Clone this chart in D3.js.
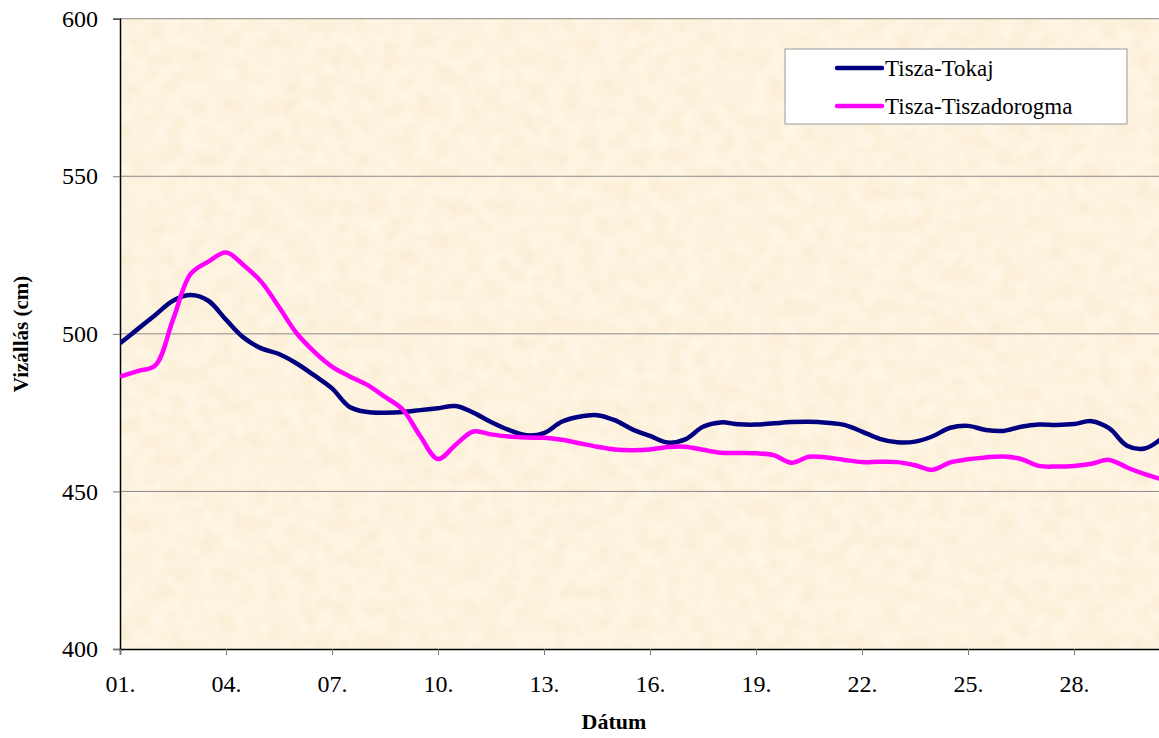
<!DOCTYPE html>
<html>
<head>
<meta charset="utf-8">
<script src="https://cdn.jsdelivr.net/npm/d3@7"></script>
<style>
  body { margin: 0; background: #fff; }
  text { font-family: "Liberation Serif", "Times New Roman", serif; }
</style>
</head>
<body>
<svg id="chart" width="1159" height="738"></svg>
<script>
// half-day readings, day of month
var days = [1, 1.5, 2, 2.5, 3, 3.5, 4, 4.5, 5, 5.5, 6, 6.5, 7, 7.5, 8, 8.5, 9, 9.5, 10, 10.5,
  11, 11.5, 12, 12.5, 13, 13.5, 14, 14.5, 15, 15.5, 16, 16.5, 17, 17.5, 18, 18.5, 19, 19.5, 20, 20.5,
  21, 21.5, 22, 22.5, 23, 23.5, 24, 24.5, 25, 25.5, 26, 26.5, 27, 27.5, 28, 28.5, 29, 29.5, 30, 30.5];

var tokaj = [497, 501.5, 506, 510.5, 512.3, 510.5, 504.5, 498.8, 495.4, 493.6, 490.6, 486.8, 482.7, 476.8, 475.2, 475, 475.2, 475.8, 476.4, 477.1,
  475, 472, 469.5, 467.8, 468.5, 472.1, 473.7, 474.2, 472.6, 469.7, 467.6, 465.5, 466.5, 470.5, 471.9, 471.3, 471.2, 471.6, 472, 472.1,
  471.8, 471.1, 469, 466.7, 465.6, 465.8, 467.5, 470.2, 470.8, 469.5, 469.2, 470.5, 471.2, 471.1, 471.4, 472.3, 470, 464.5, 463.6, 467];

var tiszadorogma = [486.4, 488.2, 490, 504.5, 519, 522.9, 525.8, 521.8, 516.5, 508.5, 500.2, 494.3, 489.6, 486.5, 483.8, 480, 476, 467.5, 460.3, 464.8,
  469, 468.1, 467.4, 467.1, 467, 466.4, 465.3, 464.2, 463.3, 463.1, 463.3, 464.1, 464.2, 463.2, 462.3, 462.2, 462.1, 461.5, 459.1, 461,
  460.8, 460, 459.3, 459.4, 459.3, 458.3, 456.9, 459.2, 460.2, 460.8, 461.1, 460.3, 458.1, 457.9, 458.1, 458.8, 460, 457.6, 455.5, 453.8];

var seriesNames = ["Tisza-Tokaj", "Tisza-Tiszadorogma"];
var seriesColors = ["#000080", "#ff00ff"];

var tickDays = [1, 4, 7, 10, 13, 16, 19, 22, 25, 28];
var tickLabels = ["01.", "04.", "07.", "10.", "13.", "16.", "19.", "22.", "25.", "28."];
var yTicks = [400, 450, 500, 550, 600];

var svg = d3.select("#chart");

var plotLeft = 120, plotTop = 18.7, plotBottom = 649, plotRight = 1180;

var x = d3.scaleLinear().domain([1, 31]).range([plotLeft, plotRight]);
var y = d3.scaleLinear().domain([400, 600]).range([plotBottom, plotTop]);

// parchment texture, kept faint
var defs = svg.append("defs");
var filter = defs.append("filter")
  .attr("id", "paper")
  .attr("x", 0).attr("y", 0).attr("width", 1).attr("height", 1)
  .attr("color-interpolation-filters", "sRGB");
filter.append("feTurbulence")
  .attr("type", "fractalNoise")
  .attr("baseFrequency", 0.06)
  .attr("numOctaves", 2)
  .attr("seed", 7);
filter.append("feColorMatrix")
  .attr("type", "matrix")
  .attr("values", "0.02 0 0 0 0.982  0.05 0 0 0 0.925  0.1 0 0 0 0.82  0 0 0 0 1");

defs.append("clipPath").attr("id", "plotClip")
  .append("rect")
  .attr("x", plotLeft).attr("y", plotTop)
  .attr("width", plotRight - plotLeft).attr("height", plotBottom - plotTop);

svg.append("rect")
  .attr("x", plotLeft).attr("y", plotTop)
  .attr("width", plotRight - plotLeft).attr("height", plotBottom - plotTop)
  .attr("fill", "#fbefda")
  .attr("filter", "url(#paper)");

// gridlines (600 is the top border)
svg.append("g")
  .selectAll("line")
  .data(yTicks.slice(1))
  .enter()
  .append("line")
  .attr("x1", plotLeft).attr("x2", plotRight)
  .attr("y1", function (d) { return y(d); })
  .attr("y2", function (d) { return y(d); })
  .attr("stroke", "#8c8c8c")
  .attr("stroke-width", 1);

// axes
var yAxis = d3.axisLeft(y).tickValues(yTicks).tickSize(7).tickPadding(15);
var gy = svg.append("g")
  .attr("transform", "translate(" + plotLeft + ",0)")
  .call(yAxis);
gy.select(".domain").attr("stroke", "#000").attr("stroke-width", 1.5);
gy.selectAll(".tick line").attr("stroke", "#777");
gy.selectAll("text")
  .attr("font-size", 24)
  .attr("font-family", "Liberation Serif")
  .attr("fill", "#000");

var xAxis = d3.axisBottom(x)
  .tickValues(tickDays)
  .tickFormat(function (d, i) { return tickLabels[i]; })
  .tickSize(6)
  .tickPadding(20);
var gx = svg.append("g")
  .attr("transform", "translate(0," + plotBottom + ")")
  .call(xAxis);
gx.select(".domain").attr("stroke", "#000").attr("stroke-width", 1.5);
gx.selectAll(".tick line").attr("stroke", "#777");
gx.selectAll("text")
  .attr("font-size", 24)
  .attr("font-family", "Liberation Serif")
  .attr("fill", "#000");

// lines
var line = d3.line()
  .x(function (d) { return x(d[0]); })
  .y(function (d) { return y(d[1]); })
  .curve(d3.curveCatmullRom.alpha(0.5));

var series = [tokaj, tiszadorogma];
var plot = svg.append("g").attr("clip-path", "url(#plotClip)");
series.forEach(function (values, i) {
  plot.append("path")
    .datum(days.map(function (d, j) { return [d, values[j]]; }))
    .attr("d", line)
    .attr("fill", "none")
    .attr("stroke", seriesColors[i])
    .attr("stroke-width", 4.5)
    .attr("stroke-linejoin", "round");
});

// axis titles
svg.append("text")
  .attr("x", 614).attr("y", 729)
  .attr("text-anchor", "middle")
  .attr("font-size", 22)
  .attr("font-weight", "bold")
  .text("Dátum");

svg.append("text")
  .attr("transform", "translate(28,334) rotate(-90)")
  .attr("text-anchor", "middle")
  .attr("font-size", 21)
  .attr("font-weight", "bold")
  .text("Vizállás (cm)");

// legend
var legend = svg.append("g");
legend.append("rect")
  .attr("x", 785).attr("y", 49)
  .attr("width", 342).attr("height", 75)
  .attr("fill", "#fff")
  .attr("stroke", "#999");

var items = legend.selectAll(".item")
  .data(seriesNames)
  .enter()
  .append("g")
  .attr("class", "item")
  .attr("transform", function (d, i) { return "translate(0," + (68 + i * 38) + ")"; });
items.append("line")
  .attr("x1", 837).attr("x2", 882)
  .attr("stroke", function (d, i) { return seriesColors[i]; })
  .attr("stroke-width", 4.5)
  .attr("stroke-linecap", "round");
items.append("text")
  .attr("x", 885).attr("y", 8)
  .attr("font-size", 23)
  .text(function (d) { return d; });
</script>
</body>
</html>
